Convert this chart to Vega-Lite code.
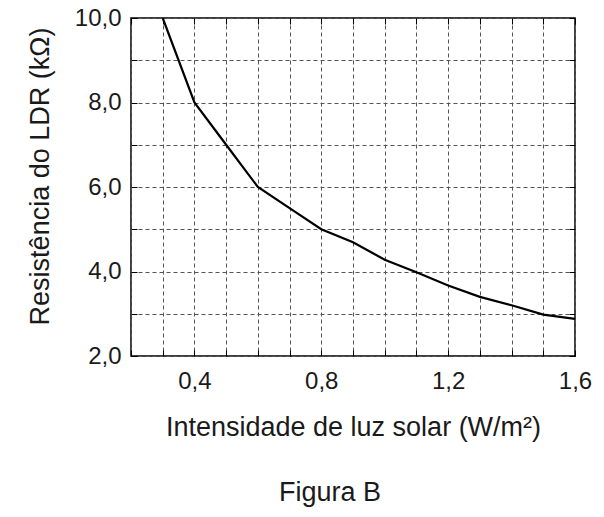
{
  "$schema": "https://vega.github.io/schema/vega-lite/v6.json",
  "autosize": {"type": "none"},
  "width": 444,
  "height": 338,
  "padding": {"left": 131, "top": 18, "right": 29, "bottom": 161},
  "background": "white",
  "title": {
    "text": "Figura B",
    "orient": "bottom",
    "anchor": "middle",
    "dx": -23,
    "offset": 40,
    "font": "Liberation Sans",
    "fontSize": 27,
    "fontWeight": "normal",
    "color": "#1a1a1a"
  },
  "config": {
    "view": {"stroke": "black", "strokeWidth": 1.5},
    "axis": {
      "domain": false,
      "labelFont": "Liberation Sans",
      "titleFont": "Liberation Sans",
      "labelColor": "#1a1a1a",
      "titleColor": "#1a1a1a",
      "labelFontSize": 24,
      "titleFontSize": 27,
      "titleFontWeight": "normal",
      "tickColor": "black",
      "tickSize": -6,
      "tickWidth": 1,
      "gridColor": "#555555",
      "gridDash": [4, 3],
      "gridWidth": 1,
      "gridOpacity": 1,
      "labelOverlap": false,
      "labelFlush": false
    }
  },
  "data": {
    "values": [
      {"intensidade": 0.3, "resistencia": 10.0},
      {"intensidade": 0.4, "resistencia": 8.0},
      {"intensidade": 0.5, "resistencia": 7.0},
      {"intensidade": 0.6, "resistencia": 6.0},
      {"intensidade": 0.7, "resistencia": 5.5},
      {"intensidade": 0.8, "resistencia": 5.0},
      {"intensidade": 0.9, "resistencia": 4.69},
      {"intensidade": 1.0, "resistencia": 4.28},
      {"intensidade": 1.1, "resistencia": 3.98},
      {"intensidade": 1.2, "resistencia": 3.67},
      {"intensidade": 1.3, "resistencia": 3.4},
      {"intensidade": 1.4, "resistencia": 3.2},
      {"intensidade": 1.5, "resistencia": 2.98},
      {"intensidade": 1.6, "resistencia": 2.88}
    ]
  },
  "layer": [
    {
      "mark": {"type": "line", "color": "black", "strokeWidth": 2.2, "clip": true},
      "encoding": {
        "x": {
          "field": "intensidade",
          "type": "quantitative",
          "scale": {"domain": [0.2, 1.6], "nice": false, "zero": false},
          "axis": {
            "orient": "bottom",
            "title": "Intensidade de luz solar (W/m²)",
            "values": [0.2, 0.3, 0.4, 0.5, 0.6, 0.7, 0.8, 0.9, 1.0, 1.1, 1.2, 1.3, 1.4, 1.5, 1.6],
            "labelExpr": "indexof(['0.4','0.8','1.2','1.6'], format(datum.value, '.1f')) >= 0 ? replace(format(datum.value, '.1f'), '.', ',') : ''",
            "grid": true,
            "labelPadding": 38,
            "labelBaseline": "alphabetic",
            "titleY": 79,
            "titleBaseline": "alphabetic"
          }
        },
        "y": {
          "field": "resistencia",
          "type": "quantitative",
          "scale": {"domain": [2, 10], "nice": false, "zero": false},
          "axis": {
            "orient": "left",
            "title": "Resistência do LDR (kΩ)",
            "values": [2, 3, 4, 5, 6, 7, 8, 9, 10],
            "labelExpr": "datum.value % 2 == 0 ? replace(format(datum.value, '.1f'), '.', ',') : ''",
            "grid": true,
            "labelPadding": 16,
            "labelBaseline": "middle",
            "titleX": -91,
            "titleY": 158,
            "titleAngle": -90,
            "titleBaseline": "middle"
          }
        }
      }
    },
    {
      "mark": {"type": "line", "opacity": 0},
      "encoding": {
        "x": {
          "field": "intensidade",
          "type": "quantitative",
          "axis": {
            "orient": "top",
            "title": null,
            "labels": false,
            "grid": false,
            "values": [0.2, 0.3, 0.4, 0.5, 0.6, 0.7, 0.8, 0.9, 1.0, 1.1, 1.2, 1.3, 1.4, 1.5, 1.6]
          }
        },
        "y": {
          "field": "resistencia",
          "type": "quantitative",
          "axis": {
            "orient": "right",
            "title": null,
            "labels": false,
            "grid": false,
            "values": [2, 3, 4, 5, 6, 7, 8, 9, 10]
          }
        }
      }
    }
  ],
  "resolve": {"axis": {"x": "independent", "y": "independent"}}
}
